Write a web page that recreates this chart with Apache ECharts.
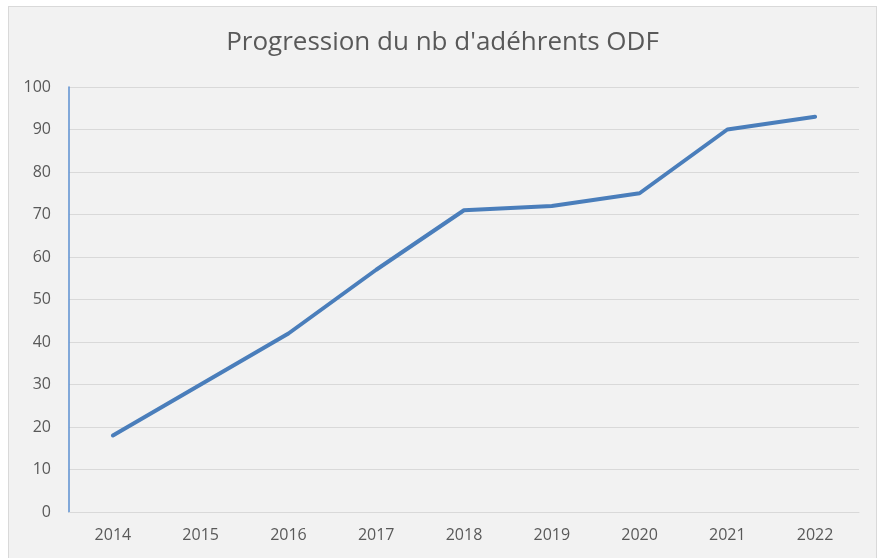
<!DOCTYPE html>
<html>
<head>
<meta charset="utf-8">
<script src="https://cdn.jsdelivr.net/npm/echarts@6/dist/echarts.min.js"></script>
<style>
  html, body { margin: 0; padding: 0; background: #fff; }
  #frame {
    position: absolute; left: 8px; top: 6px;
    width: 869px; height: 560px;
    box-sizing: border-box;
    border: 1px solid #d9d9d9;
    background: #f2f2f2;
  }
  #chart { width: 867px; height: 558px; }
</style>
</head>
<body>
<div id="frame"><div id="chart"></div></div>
<script>
const title = "Progression du nb d'adéhrents ODF"
const years = ['2014', '2015', '2016', '2017', '2018', '2019', '2020', '2021', '2022']
const members = [18, 30, 42, 57, 71, 72, 75, 90, 93]
const yTicks = { min: 0, max: 100, step: 10 }

const labelColor = '#595959'
const gridColor = '#d9d9d9'
const font = '"Open Sans", Calibri, sans-serif'

const chart = echarts.init(document.getElementById('chart'))
chart.setOption({
  backgroundColor: 'transparent',
  animation: false,
  title: {
    text: title,
    left: 'center',
    top: 18,
    textStyle: {
      color: labelColor,
      fontFamily: font,
      fontSize: 26,
      fontWeight: 'normal'
    }
  },
  grid: {
    left: 60,
    right: 17,
    top: 80,
    bottom: 53
  },
  xAxis: {
    type: 'category',
    boundaryGap: true,
    data: years,
    axisLine: { show: true, lineStyle: { color: gridColor, width: 1 } },
    axisTick: { show: false },
    axisLabel: {
      color: labelColor,
      fontFamily: font,
      fontSize: 16,
      margin: 15
    }
  },
  yAxis: {
    type: 'value',
    min: yTicks.min,
    max: yTicks.max,
    interval: yTicks.step,
    axisLine: { show: true, lineStyle: { color: '#5b8fd0', width: 1.5 } },
    axisTick: { show: false },
    axisLabel: {
      color: labelColor,
      fontFamily: font,
      fontSize: 16,
      margin: 18
    },
    splitLine: { show: true, lineStyle: { color: gridColor, width: 1 } }
  },
  series: [{
    type: 'line',
    data: members,
    showSymbol: false,
    symbol: 'none',
    lineStyle: { color: '#4a7ebb', width: 4, cap: 'round', join: 'round' }
  }]
})
</script>
</body>
</html>
